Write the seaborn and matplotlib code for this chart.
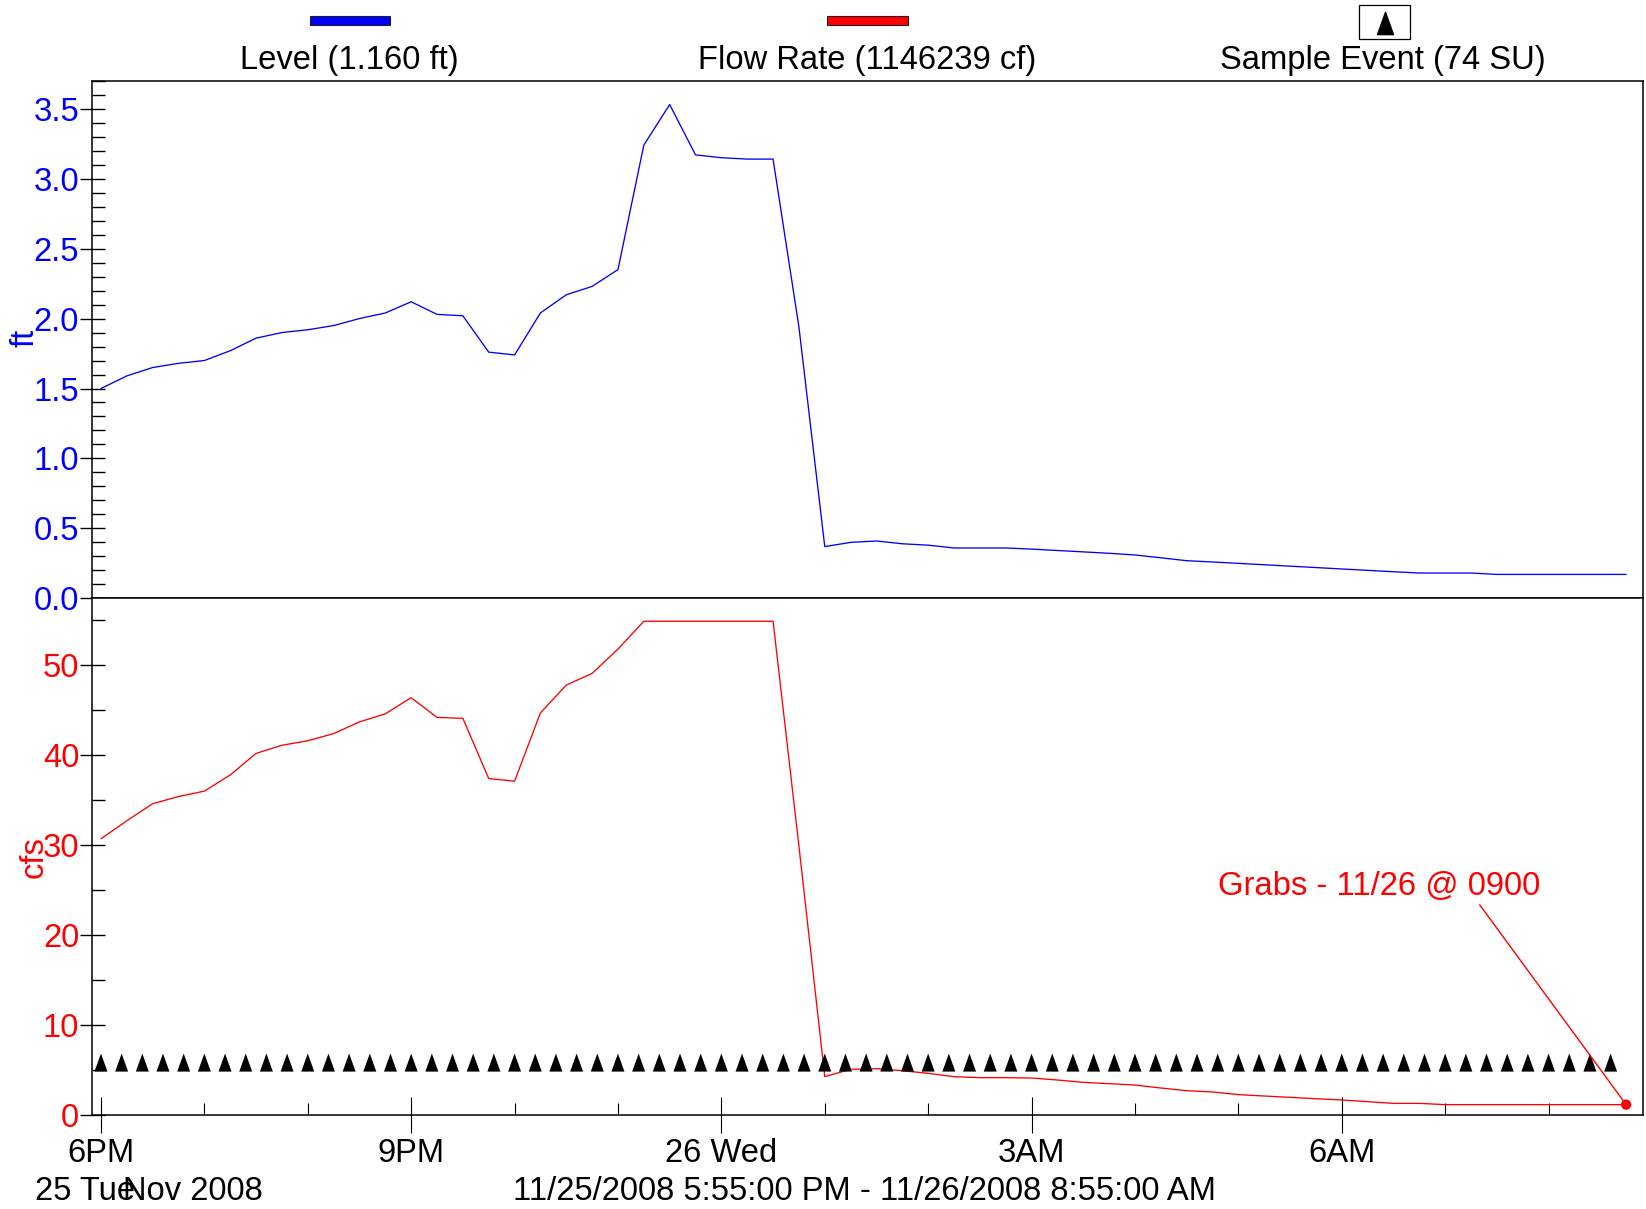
import numpy as np
import pandas as pd
import matplotlib
matplotlib.use("Agg")
import matplotlib.pyplot as plt
import matplotlib.dates as mdates
from matplotlib.patches import Rectangle
from matplotlib.path import Path
from matplotlib.lines import Line2D
from matplotlib.ticker import MultipleLocator, FormatStrFormatter
import seaborn as sns

# ---------------- data ----------------
series_start = "2008-11-25 18:00"
level_ft = [1.50, 1.59, 1.65, 1.68, 1.70, 1.77, 1.86, 1.90, 1.92, 1.95,
            2.00, 2.04, 2.12, 2.03, 2.02, 1.76, 1.74, 2.04, 2.17, 2.23,
            2.35, 3.24, 3.53, 3.17, 3.15, 3.14, 3.14, 1.94, 0.37, 0.40,
            0.41, 0.39, 0.38, 0.36, 0.36, 0.36, 0.352, 0.342, 0.332, 0.322,
            0.31, 0.29, 0.269, 0.26, 0.25, 0.24, 0.23, 0.22, 0.21, 0.20,
            0.19, 0.181, 0.181, 0.181, 0.171, 0.171, 0.171, 0.171, 0.171, 0.171]
flow_cfs = [30.7, 32.7, 34.6, 35.4, 36.0, 37.8, 40.2, 41.1, 41.6, 42.4,
            43.7, 44.6, 46.4, 44.2, 44.1, 37.4, 37.1, 44.7, 47.8, 49.1,
            51.8, 54.9, 54.9, 54.9, 54.9, 54.9, 54.9, 29.9, 4.24, 5.05,
            5.12, 4.9, 4.6, 4.23, 4.12, 4.12, 4.08, 3.86, 3.6, 3.45,
            3.3, 2.97, 2.67, 2.53, 2.23, 2.08, 1.93, 1.78, 1.64, 1.45,
            1.26, 1.26, 1.12, 1.12, 1.12, 1.12, 1.12, 1.12, 1.12, 1.12]
sample_count = 74
sample_interval = "12min"
sample_marker_cfs = 5.8
x_start = "2008-11-25 17:55"
x_end = "2008-11-26 08:55"
major_tick_labels = ["6PM", "9PM", "26 Wed", "3AM", "6AM"]
legend_labels = ["Level (1.160 ft)", "Flow Rate (1146239 cf)", "Sample Event (74 SU)"]
day_label = "25 Tue"
month_label = "Nov 2008"
range_label = "11/25/2008 5:55:00 PM - 11/26/2008 8:55:00 AM"
annotation_text = "Grabs - 11/26 @ 0900"
level_label = "ft"
flow_label = "cfs"

times = pd.date_range(series_start, periods=len(level_ft), freq="15min")
sample_times = pd.date_range(series_start, periods=sample_count, freq=sample_interval)
major_times = pd.date_range(series_start, periods=len(major_tick_labels), freq="3h")

df = pd.DataFrame({"time": times, "level": level_ft, "flow": flow_cfs})
samples = pd.DataFrame({"time": sample_times, "cfs": [sample_marker_cfs] * sample_count})

# ---------------- style ----------------
BLUE = "#0000ff"
RED = "#ff0000"
FS = 23.6
sns.set_style("white")
plt.rcParams["font.family"] = ["Liberation Sans", "DejaVu Sans"]
plt.rcParams["axes.edgecolor"] = "black"
plt.rcParams["axes.linewidth"] = 1.1
plt.rcParams["text.color"] = "black"
plt.rcParams["xtick.color"] = "black"
plt.rcParams["ytick.color"] = "black"

fig = plt.figure(figsize=(16.46, 12.09), dpi=100)
ax1 = fig.add_axes([0.0561, 0.5051, 0.9423, 0.4281])
ax2 = fig.add_axes([0.0561, 0.0780, 0.9423, 0.4271], sharex=ax1)

sns.lineplot(data=df, x="time", y="level", ax=ax1, color=BLUE, lw=0.95)
sns.lineplot(data=df, x="time", y="flow", ax=ax2, color=RED, lw=0.95)

tri = Path([(0, 1), (-0.72, -1), (0.72, -1), (0, 1)],
           [Path.MOVETO, Path.LINETO, Path.LINETO, Path.CLOSEPOLY])
sns.scatterplot(data=samples, x="time", y="cfs", ax=ax2, marker=tri, s=169,
                color="black", edgecolor="none", linewidth=0, zorder=4)

# red point at the grab time + annotation
last = df.iloc[[-1]]
sns.scatterplot(data=last, x="time", y="flow", ax=ax2, color=RED, s=55,
                edgecolor="none", linewidth=0, zorder=5)
ax2.annotate(annotation_text,
             xy=(mdates.date2num(last["time"].iloc[0]), last["flow"].iloc[0]),
             xycoords="data",
             xytext=(1379, 1209 - 886), textcoords="figure pixels",
             ha="center", va="center", color=RED, fontsize=FS,
             arrowprops=dict(arrowstyle="-", color=RED, lw=1.0,
                             shrinkA=0, shrinkB=0, relpos=(0.805, 0.0)),
             zorder=6)

# ---------------- axes ----------------
xmin, xmax = pd.Timestamp(x_start), pd.Timestamp(x_end)
ax2.set_xlim(xmin, xmax)
ax1.set_ylim(0, 3.7)
ax2.set_ylim(0, 57.45)

ax1.yaxis.set_major_locator(MultipleLocator(0.5))
ax1.yaxis.set_minor_locator(MultipleLocator(0.1))
ax1.yaxis.set_major_formatter(FormatStrFormatter("%.1f"))
ax2.yaxis.set_major_locator(MultipleLocator(10))
ax2.yaxis.set_minor_locator(MultipleLocator(5))

ax2.set_xticks(major_times, labels=major_tick_labels)
ax2.xaxis.set_minor_locator(mdates.HourLocator())

for ax, col in ((ax1, BLUE), (ax2, RED)):
    ax.tick_params(axis="y", which="major", direction="inout", length=18,
                   width=1.0, color="black", labelcolor=col, labelsize=FS,
                   pad=0.5, left=True)
    ax.tick_params(axis="y", which="minor", direction="in", length=9.4,
                   width=1.0, color="black", left=True)
    ax.set_xlabel("")

ax1.tick_params(axis="x", which="both", bottom=False, labelbottom=False)
ax2.tick_params(axis="x", which="major", direction="inout", length=26.6,
                width=0.8, color="black", labelcolor="black", labelsize=FS,
                pad=3.5, bottom=True)
ax2.tick_params(axis="x", which="minor", direction="in", length=8.4,
                width=0.8, color="black", bottom=True)

ax1.set_ylabel(level_label, color=BLUE, fontsize=FS)
ax2.set_ylabel(flow_label, color=RED, fontsize=FS)
ax1.yaxis.set_label_coords(0.0150, 0.7208, transform=fig.transFigure)
ax2.yaxis.set_label_coords(0.0207, 0.2914, transform=fig.transFigure)
ax1.yaxis.label.set_verticalalignment("center")
ax2.yaxis.label.set_verticalalignment("center")

for ax in (ax1, ax2):
    for s in ax.spines.values():
        s.set_visible(True)
        s.set_color("black")
        s.set_linewidth(1.1)

# ---------------- legend (header) ----------------
W, H = 1646.0, 1209.0
def fx(px):
    return px / W
def fy(py):
    return 1 - py / H

fig.add_artist(Rectangle((fx(310), fy(25)), fx(80), 9 / H, transform=fig.transFigure,
                         facecolor=BLUE, edgecolor="#202020", lw=0.8))
fig.add_artist(Rectangle((fx(827), fy(25)), fx(81), 9 / H, transform=fig.transFigure,
                         facecolor=RED, edgecolor="#202020", lw=0.8))
fig.add_artist(Rectangle((fx(1359), fy(39)), fx(51), 34 / H, transform=fig.transFigure,
                         facecolor="white", edgecolor="black", lw=0.9))
fig.add_artist(Line2D([fx(1385)], [fy(23)], transform=fig.transFigure, marker=tri,
                      markersize=16, color="black", linestyle="none"))

for cx, lab in zip((349, 867, 1383), legend_labels):
    fig.text(fx(cx), fy(69), lab, ha="center", va="baseline", fontsize=FS, color="black")

fig.text(fx(35), fy(1200), day_label, ha="left", va="baseline", fontsize=FS, color="black")
fig.text(fx(123), fy(1200), month_label, ha="left", va="baseline", fontsize=FS, color="black")
fig.text(fx(865), fy(1200), range_label, ha="center", va="baseline", fontsize=FS, color="black")

fig.savefig("out.png", dpi=100)
